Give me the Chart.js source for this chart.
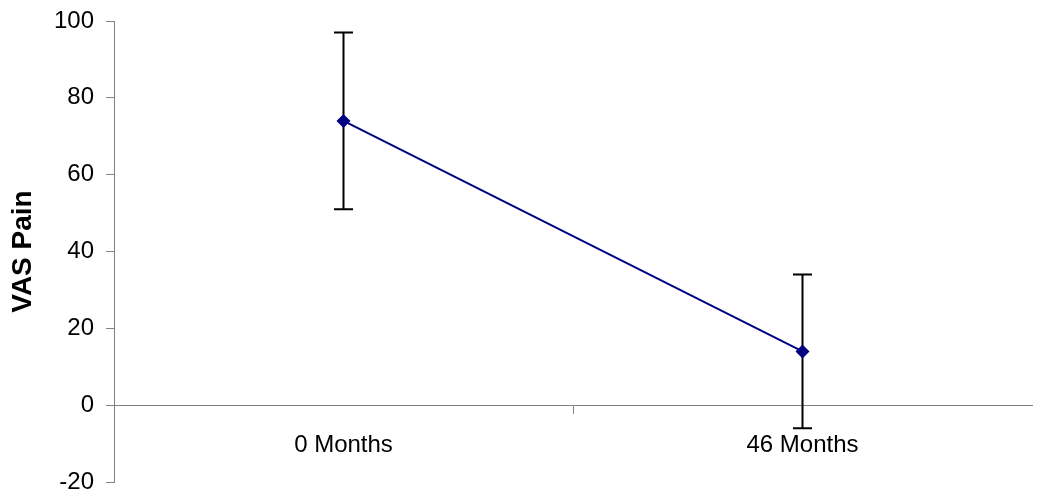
<!DOCTYPE html>
<html>
<head>
<meta charset="utf-8">
<script src="https://cdn.jsdelivr.net/npm/chart.js@4/dist/chart.umd.min.js"></script>
<style>
  html, body { margin: 0; padding: 0; background: #fff; }
  #wrap { width: 1039px; height: 498px; position: relative; }
</style>
</head>
<body>
<div id="wrap"><canvas id="c"></canvas></div>
<script>
const categories = ["0 Months", "46 Months"];
const vasMean = [74, 14];
const vasErr = [23, 20];
const yTicks = { min: -20, max: 100, step: 20 };
const yTitle = "VAS Pain";

const errorBars = {
  id: 'errorBars',
  beforeDatasetsDraw(chart) {
    const ctx = chart.ctx;
    const xs = chart.scales.x, ys = chart.scales.y;
    ctx.save();
    ctx.strokeStyle = '#000';
    ctx.lineWidth = 2;
    vasMean.forEach((m, i) => {
      const x = xs.getPixelForValue(i);
      const yt = ys.getPixelForValue(m + vasErr[i]);
      const yb = ys.getPixelForValue(m - vasErr[i]);
      ctx.beginPath();
      ctx.moveTo(x, yt); ctx.lineTo(x, yb);
      ctx.moveTo(x - 9.5, yt); ctx.lineTo(x + 9.5, yt);
      ctx.moveTo(x - 9.5, yb); ctx.lineTo(x + 9.5, yb);
      ctx.stroke();
    });
    ctx.restore();
  }
};

new Chart(document.getElementById('c'), {
  type: 'line',
  data: {
    labels: categories,
    datasets: [{
      data: vasMean,
      borderColor: '#000080',
      backgroundColor: '#000080',
      borderWidth: 2,
      pointStyle: 'rectRot',
      pointRadius: 7,
      pointBorderWidth: 0,
      tension: 0
    }]
  },
  options: {
    responsive: true,
    maintainAspectRatio: false,
    animation: false,
    events: [],
    layout: { padding: { top: 21, bottom: 16, left: 0, right: 2 } },
    plugins: { legend: { display: false }, tooltip: { enabled: false } },
    scales: {
      x: {
        position: { y: 0 },
        offset: true,
        grid: {
          display: true,
          drawOnChartArea: false,
          drawTicks: true,
          tickLength: 8,
          offset: true,
          color: (c) => (c.tick ? '#808080' : 'rgba(0,0,0,0)')
        },
        border: { display: true, color: '#808080', width: 1 },
        ticks: {
          color: '#000',
          padding: 18,
          font: { family: 'Liberation Sans, Arial, sans-serif', size: 24 },
          maxRotation: 0
        }
      },
      y: {
        position: 'left',
        min: yTicks.min,
        max: yTicks.max,
        afterFit: (s) => { s.width = 114; s.paddingTop = 0; s.paddingBottom = 0; },
        grid: {
          display: true,
          drawOnChartArea: false,
          drawTicks: true,
          tickLength: 8,
          color: '#808080'
        },
        border: { display: true, color: '#808080', width: 1 },
        ticks: {
          stepSize: yTicks.step,
          color: '#000',
          padding: 12,
          font: { family: 'Liberation Sans, Arial, sans-serif', size: 24 }
        },
        title: {
          display: true,
          text: yTitle,
          color: '#000',
          font: { family: 'Liberation Sans, Arial, sans-serif', size: 28, weight: 'bold' },
          padding: { top: 6, bottom: 0 }
        }
      }
    }
  },
  plugins: [errorBars]
});
</script>
</body>
</html>
